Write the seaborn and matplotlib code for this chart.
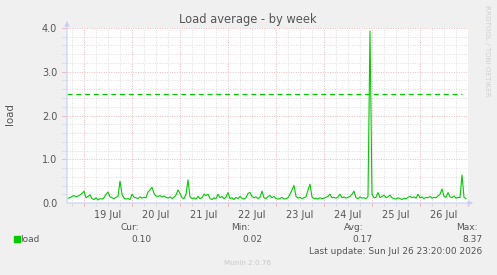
import numpy as np
import pandas as pd
import matplotlib
matplotlib.use("Agg")
import matplotlib.pyplot as plt
import matplotlib.dates as mdates
import seaborn as sns

# ---- data (hourly load average) ----
start_time = "2026-07-18 16:00"
load_values = [
    0.11, 0.12, 0.15, 0.17, 0.14, 0.16, 0.18, 0.22, 0.27, 0.12,
    0.15, 0.19, 0.10, 0.08, 0.12, 0.07, 0.10, 0.09, 0.12, 0.20,
    0.25, 0.14, 0.12, 0.10, 0.13, 0.15, 0.50, 0.20, 0.11, 0.09,
    0.10, 0.08, 0.20, 0.13, 0.12, 0.10, 0.14, 0.11, 0.13, 0.12,
    0.25, 0.30, 0.36, 0.22, 0.16, 0.15, 0.17, 0.14, 0.16, 0.13,
    0.11, 0.14, 0.10, 0.13, 0.18, 0.30, 0.22, 0.12, 0.10, 0.20,
    0.53, 0.14, 0.10, 0.12, 0.09, 0.15, 0.10, 0.12, 0.20, 0.17,
    0.20, 0.10, 0.08, 0.12, 0.10, 0.20, 0.12, 0.15, 0.10, 0.13,
    0.24, 0.10, 0.12, 0.08, 0.13, 0.10, 0.15, 0.11, 0.09, 0.12,
    0.22, 0.24, 0.15, 0.12, 0.14, 0.10, 0.13, 0.27, 0.12, 0.10,
    0.15, 0.17, 0.12, 0.15, 0.10, 0.09, 0.10, 0.13, 0.09, 0.10,
    0.12, 0.20, 0.30, 0.40, 0.15, 0.11, 0.13, 0.10, 0.12, 0.14,
    0.30, 0.43, 0.14, 0.10, 0.11, 0.09, 0.12, 0.10, 0.11, 0.13,
    0.15, 0.20, 0.12, 0.13, 0.11, 0.14, 0.20, 0.12, 0.14, 0.11,
    0.13, 0.15, 0.20, 0.27, 0.12, 0.10, 0.14, 0.11, 0.12, 0.10,
    0.15, 3.93, 0.20, 0.12, 0.13, 0.24, 0.12, 0.15, 0.18, 0.12,
    0.14, 0.18, 0.12, 0.10, 0.09, 0.12, 0.10, 0.08, 0.11, 0.10,
    0.13, 0.15, 0.12, 0.14, 0.11, 0.20, 0.12, 0.14, 0.10, 0.13,
    0.12, 0.15, 0.11, 0.13, 0.12, 0.16, 0.20, 0.32, 0.15, 0.13,
    0.24, 0.14, 0.12, 0.16, 0.11, 0.13, 0.12, 0.64, 0.13, 0.10,
]
warning_level = 2.5
x_start = "2026-07-18 15:30"
x_end = "2026-07-27 00:00"
day_labels = ["19 Jul", "20 Jul", "21 Jul", "22 Jul", "23 Jul", "24 Jul", "25 Jul", "26 Jul"]
y_ticks = [0.0, 1.0, 2.0, 3.0, 4.0]
legend_name = "load"
stat_names = ["Cur:", "Min:", "Avg:", "Max:"]
stat_values = ["0.10", "0.02", "0.17", "8.37"]
title = "Load average - by week"
last_update = "Last update: Sun Jul 26 23:20:00 2026"

df = pd.DataFrame({
    "time": pd.date_range(start_time, periods=len(load_values), freq="h"),
    "load": load_values,
})

W, H = 497, 275
fig = plt.figure(figsize=(W / 100, H / 100), dpi=100, facecolor="#f0f0f0")
L, R, T, B = 67, 468, 28, 203
ax = fig.add_axes([L / W, 1 - B / H, (R - L) / W, (B - T) / H])
ax.set_facecolor("white")

GREEN = "#00cc00"
TXT = "#555555"
minor_c = "#dedede"
major_c = "#ebbcbc"
axis_c = "#c8d0f4"

x0 = pd.Timestamp(x_start)
x1 = pd.Timestamp(x_end)
ax.set_xlim(x0, x1)
ax.set_ylim(0, 4.0)

# grid
dot = (0, (1, 1.5))
for v in np.arange(0.2, 4.01, 0.2):
    major = abs(v - round(v)) < 1e-6
    ax.axhline(v, color=major_c if major else minor_c, lw=0.7, ls=dot, zorder=1)
days = pd.date_range("2026-07-19", "2026-07-27", freq="D")
for t in pd.date_range("2026-07-18 18:00", x1, freq="6h"):
    major = t.hour == 0
    ax.axvline(t, color=major_c if major else minor_c, lw=0.7, ls=dot, zorder=1)

# warning line
ax.plot([x0, pd.Timestamp("2026-07-26 21:00")], [warning_level, warning_level],
        color=GREEN, lw=0.9, ls=(0, (4, 3)), zorder=2)

sns.lineplot(data=df, x="time", y="load", ax=ax, color=GREEN, lw=0.8, zorder=3)

for s in ax.spines.values():
    s.set_visible(False)

# ticks
noons = [d + pd.Timedelta(hours=12) for d in days[:len(day_labels)]]
ax.set_xticks(noons)
ax.set_xticklabels(day_labels)
ax.tick_params(axis="x", length=0, pad=5, labelsize=7, labelcolor=TXT)
ax.set_yticks(y_ticks)
ax.set_yticklabels([f"{v:.1f}" for v in y_ticks])
ax.tick_params(axis="y", length=0, pad=7, labelsize=7, labelcolor=TXT)
ax.set_xlabel("")
ax.set_ylabel("")

# small tick marks under axis / left of axis
for t in pd.date_range("2026-07-18 18:00", x1, freq="6h"):
    ax.plot([t, t], [0, -0.07], color=major_c if t.hour == 0 else minor_c,
            lw=0.7, clip_on=False, zorder=1)
for v in np.arange(0.2, 4.01, 0.2):
    major = abs(v - round(v)) < 1e-6
    ax.plot([-0.012, -0.002], [v, v], transform=ax.get_yaxis_transform(),
            color=major_c if major else minor_c, lw=0.7, clip_on=False, zorder=1)

# axes with arrows
ax.annotate("", xy=(1.013, 0), xytext=(0, 0), xycoords="axes fraction",
            arrowprops=dict(arrowstyle="-|>", color=axis_c, lw=0.8, mutation_scale=7,
                            shrinkA=0, shrinkB=0), annotation_clip=False, zorder=4)
ax.annotate("", xy=(0, 1.04), xytext=(0, 0), xycoords="axes fraction",
            arrowprops=dict(arrowstyle="-|>", color=axis_c, lw=0.8, mutation_scale=7,
                            shrinkA=0, shrinkB=0), annotation_clip=False, zorder=4)

# texts
def ft(x, y, s, **kw):
    fig.text(x / W, 1 - y / H, s, **kw)

ft(248, 20, title, ha="center", va="center", fontsize=8.3, color=TXT)
ft(10, 114, "load", ha="center", va="center", rotation=90, fontsize=7.4, color=TXT)
ft(487, 51, "RRDTOOL / TOBI OETIKER", ha="center", va="center", rotation=270,
   fontsize=5.1, color="#d0d0d0")

fig.patches.append(plt.Rectangle((14 / W, 1 - 242 / H), 6 / W, 6 / H,
                                 transform=fig.transFigure, color=GREEN))
ft(20, 239.5, legend_name, ha="left", va="center", fontsize=6.5, color=TXT)

name_x = [130, 241, 353.5, 466.5]
val_x = [141.5, 252, 362, 472]
for n, v, nx, vx in zip(stat_names, stat_values, name_x, val_x):
    ft(nx, 227.5, n, ha="center", va="center", fontsize=6.5, color=TXT)
    ft(vx, 239.5, v, ha="center", va="center", fontsize=6.5, color=TXT)
ft(482, 251.5, last_update, ha="right", va="center", fontsize=6.5, color=TXT)
ft(248, 263, "Munin 2.0.76", ha="center", va="center", fontsize=5.2, color="#c8c8c8")

fig.savefig("out.png", dpi=100, facecolor=fig.get_facecolor())
